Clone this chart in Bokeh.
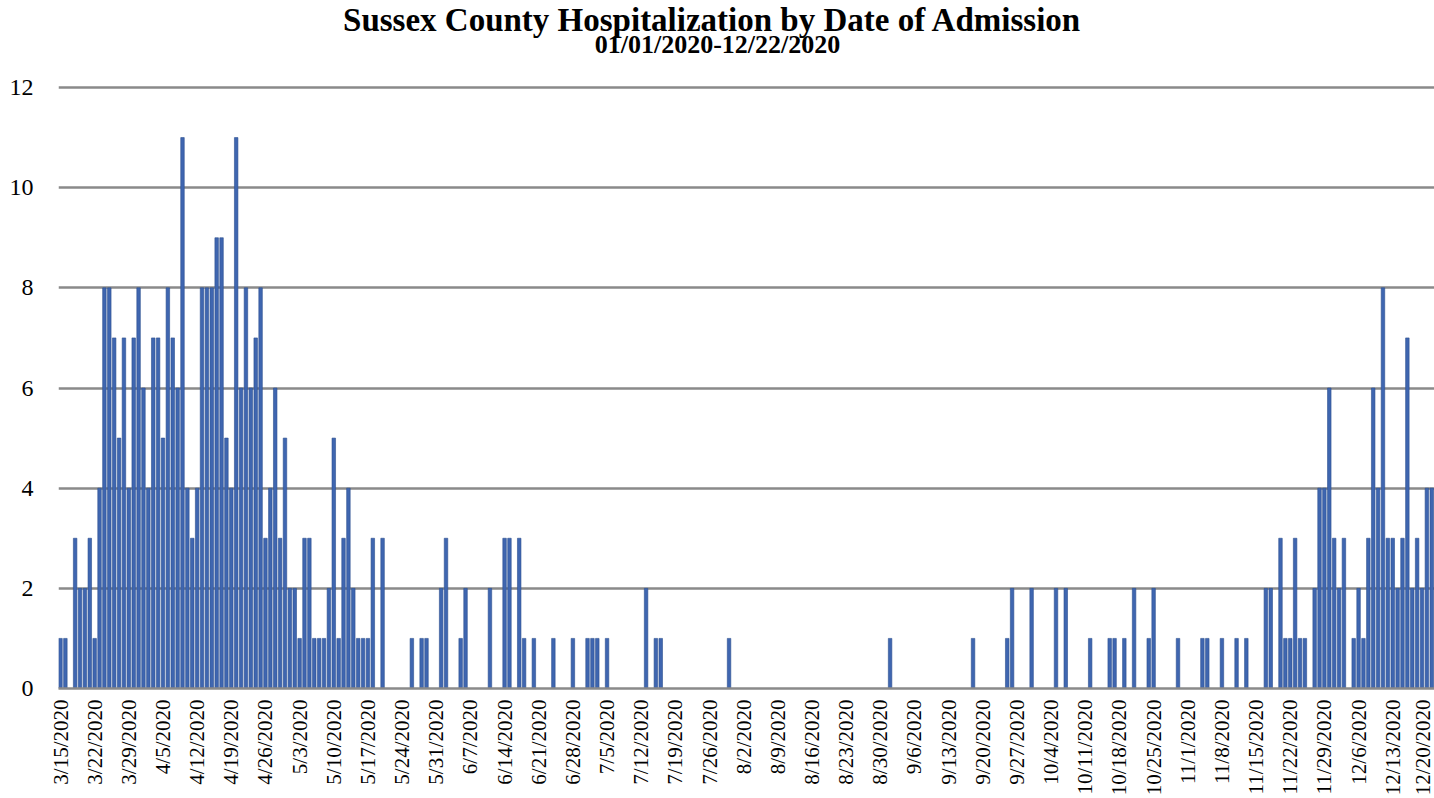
import pandas as pd
from math import pi
from bokeh.plotting import figure
from bokeh.models import Range1d, FixedTicker, Label
from bokeh.embed import file_html
from bokeh.resources import INLINE

title_line1 = "Sussex County Hospitalization by Date of Admission"
title_line2 = "01/01/2020-12/22/2020"

# Days with at least one admission (2020) and the admission counts
admit_dates = [
    "3/15", "3/16", "3/18", "3/19", "3/20", "3/21", "3/22", "3/23", "3/24", "3/25",
    "3/26", "3/27", "3/28", "3/29", "3/30", "3/31", "4/1", "4/2", "4/3", "4/4",
    "4/5", "4/6", "4/7", "4/8", "4/9", "4/10", "4/11", "4/12", "4/13", "4/14",
    "4/15", "4/16", "4/17", "4/18", "4/19", "4/20", "4/21", "4/22", "4/23", "4/24",
    "4/25", "4/26", "4/27", "4/28", "4/29", "4/30", "5/1", "5/2", "5/3", "5/4",
    "5/5", "5/6", "5/7", "5/8", "5/9", "5/10", "5/11", "5/12", "5/13", "5/14",
    "5/15", "5/16", "5/17", "5/18", "5/20", "5/26", "5/28", "5/29", "6/1", "6/2",
    "6/5", "6/6", "6/11", "6/14", "6/15", "6/17", "6/18", "6/20", "6/24", "6/28",
    "7/1", "7/2", "7/3", "7/5", "7/13", "7/15", "7/16", "7/30", "9/1", "9/18",
    "9/25", "9/26", "9/30", "10/5", "10/7", "10/12", "10/16", "10/17", "10/19", "10/21",
    "10/24", "10/25", "10/30", "11/4", "11/5", "11/8", "11/11", "11/13", "11/17", "11/18",
    "11/20", "11/21", "11/22", "11/23", "11/24", "11/25", "11/27", "11/28", "11/29", "11/30",
    "12/1", "12/2", "12/3", "12/5", "12/6", "12/7", "12/8", "12/9", "12/10", "12/11",
    "12/12", "12/13", "12/14", "12/15", "12/16", "12/17", "12/18", "12/19", "12/20", "12/21",
]
admissions = [
    1, 1, 3, 2, 2, 3, 1, 4, 8, 8,
    7, 5, 7, 4, 7, 8, 6, 4, 7, 7,
    5, 8, 7, 6, 11, 4, 3, 4, 8, 8,
    8, 9, 9, 5, 4, 11, 6, 8, 6, 7,
    8, 3, 4, 6, 3, 5, 2, 2, 1, 3,
    3, 1, 1, 1, 2, 5, 1, 3, 4, 2,
    1, 1, 1, 3, 3, 1, 1, 1, 2, 3,
    1, 2, 2, 3, 3, 3, 1, 1, 1, 1,
    1, 1, 1, 1, 2, 1, 1, 1, 1, 1,
    1, 2, 2, 2, 2, 1, 1, 1, 1, 2,
    1, 2, 1, 1, 1, 1, 1, 1, 2, 2,
    3, 1, 1, 3, 1, 1, 2, 4, 4, 6,
    3, 2, 3, 1, 2, 1, 3, 6, 4, 8,
    3, 3, 2, 3, 7, 2, 3, 2, 4, 4,
]

tick_labels = [
    "3/15/2020", "3/22/2020", "3/29/2020", "4/5/2020", "4/12/2020", "4/19/2020",
    "4/26/2020", "5/3/2020", "5/10/2020", "5/17/2020", "5/24/2020", "5/31/2020",
    "6/7/2020", "6/14/2020", "6/21/2020", "6/28/2020", "7/5/2020", "7/12/2020",
    "7/19/2020", "7/26/2020", "8/2/2020", "8/9/2020", "8/16/2020", "8/23/2020",
    "8/30/2020", "9/6/2020", "9/13/2020", "9/20/2020", "9/27/2020", "10/4/2020",
    "10/11/2020", "10/18/2020", "10/25/2020", "11/1/2020", "11/8/2020", "11/15/2020",
    "11/22/2020", "11/29/2020", "12/6/2020", "12/13/2020", "12/20/2020",
]
y_ticks = [0, 2, 4, 6, 8, 10, 12]

start = pd.Timestamp("2020-03-15")
day_idx = [(pd.to_datetime(d + "/2020", format="%m/%d/%Y") - start).days for d in admit_dates]
tick_idx = [(pd.to_datetime(t, format="%m/%d/%Y") - start).days for t in tick_labels]

SERIF = "Liberation Serif"
GRID = "#8a8a8a"

# layout (pixels): the frame runs from the canvas top down to the floor line;
# the value axis 0..12 occupies its lower 601 px, the title sits above it.
W, H = 1434, 798
LEFT, BOTTOM = 58, 110
FRAME_H = H - BOTTOM
PLOT_H = 601
X0, X1 = -0.41, 281.56
Y_TOP = max(y_ticks) * FRAME_H / PLOT_H
ux = (X1 - X0) / (W - LEFT)     # data units per px
uy = max(y_ticks) / PLOT_H

def xpos(px):
    return X0 + (px - LEFT) * ux

def ypos(py):
    return (FRAME_H - py) * uy

p = figure(
    width=W, height=H,
    output_backend="svg", toolbar_location=None, title=None,
    x_range=Range1d(X0, X1), y_range=Range1d(0, Y_TOP),
    min_border_left=LEFT, min_border_right=0, min_border_top=0, min_border_bottom=0,
    background_fill_color="white", border_fill_color="white",
)
p.outline_line_color = None

p.vbar(x=day_idx, top=admissions, width=0.72, bottom=0,
       fill_color="#3f66b0", line_color="#2c4f8e", line_width=0.6)

# grid
p.xgrid.visible = False
p.ygrid.ticker = FixedTicker(ticks=y_ticks)
p.ygrid.grid_line_color = GRID
p.ygrid.grid_line_width = 2.5

# y axis
p.yaxis.ticker = FixedTicker(ticks=y_ticks)
p.yaxis.axis_line_color = None
p.yaxis.major_tick_line_color = None
p.yaxis.minor_tick_line_color = None
p.yaxis.major_label_text_font = SERIF
p.yaxis.major_label_text_font_size = "24px"
p.yaxis.major_label_text_color = "black"
p.yaxis.major_label_standoff = 19

# x axis
p.xaxis.ticker = FixedTicker(ticks=tick_idx)
p.xaxis.major_label_overrides = {i: lab for i, lab in zip(tick_idx, tick_labels)}
p.xaxis.major_label_orientation = pi / 2
p.xaxis.major_label_text_font = SERIF
p.xaxis.major_label_text_font_size = "21px"
p.xaxis.major_label_text_color = "black"
p.xaxis.major_label_standoff = 11
p.xaxis.axis_line_color = GRID
p.xaxis.axis_line_width = 2.5
p.xaxis.major_tick_line_color = None
p.xaxis.minor_tick_line_color = None
p.xaxis.major_tick_out = 0
p.xaxis.major_tick_in = 0
p.xaxis.minor_tick_out = 0
p.xaxis.minor_tick_in = 0

# two-line title (positions are the vertical centres of the text lines)
p.add_layout(Label(
    x=xpos(712), y=ypos(19), text=title_line1,
    text_align="center", text_baseline="middle",
    text_font=SERIF, text_font_style="bold", text_font_size="33px", text_color="black"))
p.add_layout(Label(
    x=xpos(717), y=ypos(44), text=title_line2,
    text_align="center", text_baseline="middle",
    text_font=SERIF, text_font_style="bold", text_font_size="26px", text_color="black"))

open("out.html", "w").write(file_html(p, INLINE))
